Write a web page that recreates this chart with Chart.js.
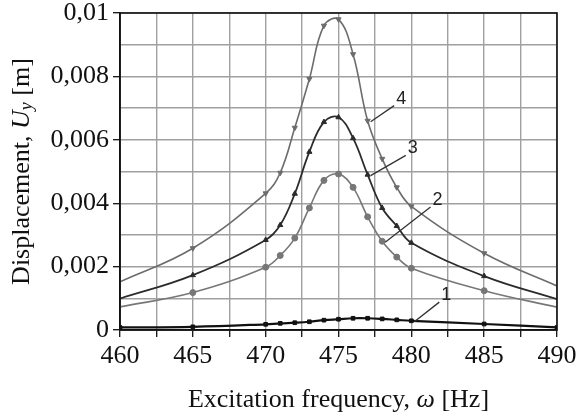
<!DOCTYPE html>
<html><head><meta charset="utf-8">
<script src="https://cdn.jsdelivr.net/npm/chart.js@4/dist/chart.umd.min.js"></script>
<style>html,body{margin:0;padding:0;background:#fff}#wrap{width:582px;height:417px;position:relative}</style>
</head><body><div id="wrap"><canvas id="c"></canvas></div>
<script>
const frequencies = [460,465,470,471,472,473,474,475,476,477,478,479,480,485,490];
const curve1 = [0.00008,0.0001,0.00018,0.00021,0.00023,0.00026,0.00031,0.00034,0.00037,0.00037,0.00035,0.00032,0.00029,0.00019,0.00008];
const curve2 = [0.00073,0.00118,0.00198,0.00235,0.0029,0.00385,0.00472,0.00492,0.0045,0.00357,0.0028,0.0023,0.00195,0.00124,0.00072];
const curve3 = [0.00099,0.00173,0.00284,0.00331,0.0043,0.00562,0.00656,0.00671,0.00605,0.0049,0.00385,0.00328,0.00275,0.0017,0.00097];
const curve4 = [0.00152,0.00258,0.00431,0.00496,0.00638,0.00792,0.0096,0.0098,0.0087,0.0066,0.0054,0.0045,0.0039,0.00242,0.00139];
const curveNames = ['1','2','3','4'];
const xTickLabels = ['460','465','470','475','480','485','490'];
const yTickLabels = ['0','0,002','0,004','0,006','0,008','0,01'];
const xTitleParts = [['Excitation frequency, ', 'normal'], ['ω', 'italic'], [' [Hz]', 'normal']];
const yTitleParts = [['Displacement, ', 'normal'], ['U', 'italic'], ['y', 'sub'], [' [m]', 'normal']];

// callout annotations: label position in data units, anchor point index on the curve
const calloutFreq = [482.4, 481.8, 480.1, 479.3];
const calloutDisp = [0.0011, 0.0041, 0.00573, 0.0073];
const calloutAnchor = [12, 10, 9, 9];

const SERIF = '"Liberation Serif","Times New Roman",serif';

function pts(arr){ return frequencies.map((f,i)=>({x:f,y:arr[i]})); }
const hideEnds = ctx => (ctx.dataIndex===0 || ctx.dataIndex===frequencies.length-1) ? 0 : 3;

const datasets = [
  {data: pts(curve1), borderColor:'#111', backgroundColor:'#111', borderWidth:2.2, pointStyle:'rect', pointRadius:2.6, pointRotation:0},
  {data: pts(curve2), borderColor:'#777', backgroundColor:'#777', borderWidth:1.6, pointStyle:'circle', pointRadius:hideEnds},
  {data: pts(curve3), borderColor:'#2b2b2b', backgroundColor:'#2b2b2b', borderWidth:1.8, pointStyle:'triangle', pointRadius:hideEnds},
  {data: pts(curve4), borderColor:'#6c6c6c', backgroundColor:'#6c6c6c', borderWidth:1.6, pointStyle:'triangle', pointRotation:180, pointRadius:hideEnds}
];
datasets.forEach((d,i)=>{ d.label = curveNames[i]; d.tension=0.4; d.pointBorderWidth=1; d.fill=false; });

function drawParts(ctx, parts, size){
  let total = 0;
  const fonts = parts.map(([t,s])=>{
    const f = s==='italic' ? `italic ${size}px ${SERIF}` : s==='sub' ? `italic ${Math.round(size*0.68)}px ${SERIF}` : `${size}px ${SERIF}`;
    ctx.font = f; const w = ctx.measureText(t).width; total += w; return {t,s,f,w};
  });
  let x = -total/2;
  fonts.forEach(p=>{ ctx.font = p.f; ctx.fillText(p.t, x, p.s==='sub' ? size*0.22 : 0); x += p.w; });
}

const decor = {
  id:'decor',
  afterDatasetsDraw(chart){
    const {ctx, chartArea:a, scales:{x,y}} = chart;
    ctx.save();
    ctx.strokeStyle='#111'; ctx.lineWidth=1.6;
    ctx.strokeRect(a.left, a.top, a.right-a.left, a.bottom-a.top);
    ctx.font = `18px "Liberation Sans",Arial,sans-serif`;
    ctx.fillStyle='#222'; ctx.textAlign='center'; ctx.textBaseline='middle';
    ctx.strokeStyle='#333'; ctx.lineWidth=1.3;
    const series=[curve1,curve2,curve3,curve4];
    curveNames.forEach((n,i)=>{
      const px = x.getPixelForValue(frequencies[calloutAnchor[i]]);
      const py = y.getPixelForValue(series[i][calloutAnchor[i]]);
      const tx = x.getPixelForValue(calloutFreq[i]);
      const ty = y.getPixelForValue(calloutDisp[i]);
      ctx.beginPath(); ctx.moveTo(px+3, py+1); ctx.lineTo(tx-7, ty+7); ctx.stroke();
      ctx.fillText(n, tx, ty);
    });
    ctx.restore();
  },
  afterDraw(chart){
    const {ctx, chartArea:a} = chart;
    ctx.save();
    ctx.fillStyle='#111'; ctx.textAlign='left'; ctx.textBaseline='middle';
    ctx.translate((a.left+a.right)/2, 400);
    drawParts(ctx, xTitleParts, 26);
    ctx.restore();
    ctx.save();
    ctx.fillStyle='#111'; ctx.textAlign='left'; ctx.textBaseline='middle';
    ctx.translate(22, (a.top+a.bottom)/2);
    ctx.rotate(-Math.PI/2);
    drawParts(ctx, yTitleParts, 26);
    ctx.restore();
  }
};

new Chart(document.getElementById('c'), {
  type:'line',
  data:{datasets},
  plugins:[decor],
  options:{
    responsive:true, maintainAspectRatio:false, animation:false,
    layout:{padding:{top:13,right:25,left:0,bottom:0}},
    plugins:{legend:{display:false}, tooltip:{enabled:false}},
    scales:{
      x:{type:'linear', min:460, max:490,
        afterFit(s){ s.height = 87; s.paddingLeft = 0; s.paddingRight = 0; },
        border:{color:'#111', width:1.6},
        grid:{color:'#a0a0a0', lineWidth:1.4, tickLength:7, tickColor:'#111', tickWidth:1.3},
        ticks:{stepSize:2.5, autoSkip:false, maxRotation:0, padding:4, color:'#111',
          font:{family:SERIF, size:26},
          callback:(v)=> (v%5===0) ? xTickLabels[(v-460)/5] : ''}
      },
      y:{min:0, max:0.01,
        afterFit(s){ s.width = 120; s.paddingTop = 0; s.paddingBottom = 0; },
        border:{color:'#111', width:1.6},
        grid:{color:'#a0a0a0', lineWidth:1.4, tickLength:7, tickWidth:1.3,
          tickColor:(c)=> c.index%2===0 ? '#111' : 'rgba(0,0,0,0)'},
        ticks:{stepSize:0.001, autoSkip:false, padding:4, color:'#111',
          font:{family:SERIF, size:26},
          callback:(v,i)=> i%2===0 ? yTickLabels[i/2] : ''}
      }
    }
  }
});
</script>
</body></html>
